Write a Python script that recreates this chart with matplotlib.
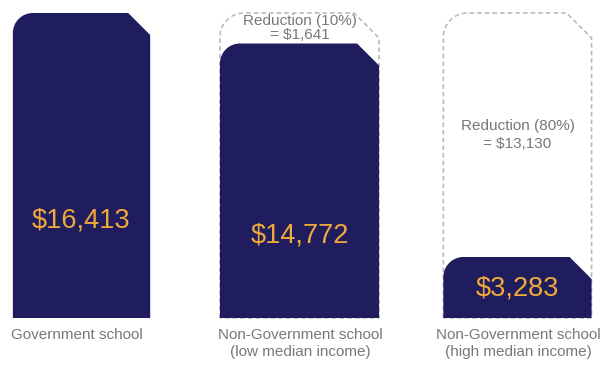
import numpy as np
import matplotlib
matplotlib.use("Agg")
import matplotlib.pyplot as plt
from matplotlib.path import Path
from matplotlib.patches import PathPatch

# funding per student, by school type
categories = ["Government school",
              "Non-Government school\n(low median income)",
              "Non-Government school\n(high median income)"]
full_amount = 16413
amounts = [16413, 14772, 3283]
reduction_pct = [None, 10, 80]
reductions = [None, 1641, 13130]

NAVY = "#1f1d5e"
GOLD = "#f2a93b"
GREY_TEXT = "#787878"
GREY_DASH = "#b5b5b5"
FONT = ["Liberation Sans", "DejaVu Sans"]

widths = [0.63, 0.73, 0.68]
label_frac = [0.32, 0.30, 0.48]
note_spacing = [1.0, 1.0, 1.45]


def bar_path(ax, xc, w, top, r_px=20, c_px=22):
    """Bar outline with a rounded top-left and a clipped top-right corner."""
    px_x = ax.transData.transform((1, 0))[0] - ax.transData.transform((0, 0))[0]
    px_y = ax.transData.transform((0, 1))[1] - ax.transData.transform((0, 0))[1]
    rx, ry = r_px / px_x, r_px / px_y
    cx, cy = c_px / px_x, c_px / px_y
    x0, x1 = xc - w / 2, xc + w / 2
    k = 0.5523
    verts = [(x0, 0), (x0, top - ry),
             (x0, top - ry + k * ry), (x0 + rx - k * rx, top), (x0 + rx, top),
             (x1 - cx, top), (x1, top - cy), (x1, 0), (x0, 0)]
    codes = [Path.MOVETO, Path.LINETO,
             Path.CURVE4, Path.CURVE4, Path.CURVE4,
             Path.LINETO, Path.LINETO, Path.LINETO, Path.CLOSEPOLY]
    return Path(verts, codes)


fig = plt.figure(figsize=(6.04, 3.67), dpi=100)
ax = fig.add_axes([0, 0, 1, 1])
ax.set_xlim(-0.374, 2.397)
ax.set_ylim(-2637, 17113)
ax.axis("off")

x = np.arange(len(categories))
for i, (xc, val) in enumerate(zip(x, amounts)):
    w = widths[i]
    if reductions[i] is not None:
        ghost = PathPatch(bar_path(ax, xc, w, full_amount, r_px=24, c_px=25),
                          facecolor="none", edgecolor=GREY_DASH, lw=1.1,
                          linestyle=(0, (3, 2)), zorder=1)
        ax.add_patch(ghost)
        mid = (full_amount + val) / 2
        ax.text(xc, mid, f"Reduction ({reduction_pct[i]}%)\n= ${reductions[i]:,}",
                ha="center", va="center", color=GREY_TEXT, fontsize=11,
                family=FONT, linespacing=note_spacing[i], zorder=3)
    ax.add_patch(PathPatch(bar_path(ax, xc, w, val), facecolor=NAVY,
                           edgecolor="none", zorder=2))
    ax.text(xc, val * label_frac[i], f"${val:,}", ha="center", va="center",
            color=GOLD, fontsize=19.5, family=FONT, zorder=3)
    ax.annotate(categories[i], (xc, 0), xytext=(-5 if i == 0 else 1, -10),
                textcoords="offset pixels", ha="center", va="top",
                color=GREY_TEXT, fontsize=11, family=FONT, linespacing=1.3)

fig.savefig("out.png", dpi=100)
